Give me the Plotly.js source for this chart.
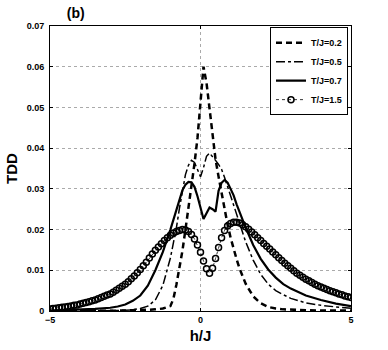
<!DOCTYPE html>
<html>
<head>
<meta charset="utf-8">
<script src="https://cdn.plot.ly/plotly-3.0.1.min.js"></script>
<style>
  html, body { margin: 0; padding: 0; background: #fff; }
  #myPlot { width: 388px; height: 350px; }
</style>
</head>
<body>
<div id="myPlot"></div>
<script>
// h/J grid used by the three line curves
var lineX = [-5, -4.5, -4, -3.5, -3, -2.75, -2.5, -2.25, -2, -1.75, -1.5, -1.25, -1,
  -0.9, -0.8, -0.7, -0.6, -0.5, -0.4, -0.3, -0.2, -0.1, 0, 0.1, 0.2, 0.3, 0.4, 0.5,
  0.6, 0.7, 0.8, 0.9, 1, 1.1, 1.2, 1.3, 1.4, 1.5, 1.75, 2, 2.25, 2.5, 2.75, 3, 3.5, 4, 4.5, 5];

var tdd02 = [0, 0, 0, 0.0001, 0.0001, 0.0001, 0.0001, 0.0002, 0.0002, 0.0003, 0.0004, 0.0006, 0.0012,
  0.0030, 0.0065, 0.0105, 0.0148, 0.0200, 0.0252, 0.0305, 0.0362, 0.0425, 0.0510, 0.0600, 0.0560, 0.0492, 0.0425, 0.0372,
  0.0330, 0.0288, 0.0248, 0.0212, 0.0180, 0.0152, 0.0127, 0.0104, 0.0084, 0.0067, 0.0036, 0.0019, 0.0010, 0.0006, 0.0004, 0.0003, 0.0002, 0.0001, 0.0001, 0.0001];

var tdd05 = [0, 0, 0, 0.0001, 0.0001, 0.0001, 0.0002, 0.0003, 0.0006, 0.0012, 0.0027, 0.0063, 0.0130,
  0.0165, 0.0205, 0.0252, 0.0297, 0.0335, 0.0358, 0.0370, 0.0365, 0.0345, 0.0330, 0.0352, 0.0380, 0.0388, 0.0380, 0.0370,
  0.0360, 0.0348, 0.0328, 0.0305, 0.0283, 0.0260, 0.0235, 0.0210, 0.0190, 0.0170, 0.0125, 0.0090, 0.0066, 0.0050, 0.0040, 0.0031, 0.0020, 0.0014, 0.0010, 0.0007];

var tdd07 = [0.0001, 0.0002, 0.0003, 0.0005, 0.0008, 0.0011, 0.0016, 0.0025, 0.0038, 0.0062, 0.0100, 0.0145, 0.0200,
  0.0225, 0.0252, 0.0277, 0.0297, 0.0310, 0.0317, 0.0316, 0.0305, 0.0282, 0.0250, 0.0226, 0.0240, 0.0254, 0.0250, 0.0244,
  0.0295, 0.0315, 0.0322, 0.0315, 0.0300, 0.0284, 0.0262, 0.0242, 0.0222, 0.0205, 0.0162, 0.0128, 0.0102, 0.0082, 0.0066, 0.0055, 0.0038, 0.0027, 0.0018, 0.0012];

// T/J=1.5 is sampled every 0.1 (one circle per sample)
var circX = [-5, -4.9, -4.8, -4.7, -4.6, -4.5, -4.4, -4.3, -4.2, -4.1,
  -4, -3.9, -3.8, -3.7, -3.6, -3.5, -3.4, -3.3, -3.2, -3.1,
  -3, -2.9, -2.8, -2.7, -2.6, -2.5, -2.4, -2.3, -2.2, -2.1,
  -2, -1.9, -1.8, -1.7, -1.6, -1.5, -1.4, -1.3, -1.2, -1.1,
  -1, -0.9, -0.8, -0.7, -0.6, -0.5, -0.4, -0.3, -0.2, -0.1,
  0, 0.1, 0.2, 0.3, 0.4, 0.5, 0.6, 0.7, 0.8, 0.9,
  1, 1.1, 1.2, 1.3, 1.4, 1.5, 1.6, 1.7, 1.8, 1.9,
  2, 2.1, 2.2, 2.3, 2.4, 2.5, 2.6, 2.7, 2.8, 2.9,
  3, 3.1, 3.2, 3.3, 3.4, 3.5, 3.6, 3.7, 3.8, 3.9,
  4, 4.1, 4.2, 4.3, 4.4, 4.5, 4.6, 4.7, 4.8, 4.9, 5];

var tdd15 = [0.0005, 0.0006, 0.0007, 0.0008, 0.0009, 0.0010, 0.0011, 0.0012, 0.0014, 0.0015,
  0.0017, 0.0019, 0.0021, 0.0023, 0.0025, 0.0027, 0.0030, 0.0033, 0.0036, 0.0039,
  0.0042, 0.0046, 0.0051, 0.0056, 0.0061, 0.0066, 0.0072, 0.0079, 0.0086, 0.0094,
  0.0102, 0.0111, 0.0120, 0.0130, 0.0140, 0.0149, 0.0157, 0.0165, 0.0173, 0.0180,
  0.0186, 0.0191, 0.0195, 0.0198, 0.0200, 0.0199, 0.0195, 0.0188, 0.0177, 0.0162,
  0.0144, 0.0123, 0.0104, 0.0093, 0.0105, 0.0129, 0.0156, 0.0180, 0.0198, 0.0209,
  0.0215, 0.0218, 0.0218, 0.0216, 0.0212, 0.0207, 0.0201, 0.0194, 0.0187, 0.0180,
  0.0173, 0.0166, 0.0159, 0.0152, 0.0145, 0.0138, 0.0131, 0.0124, 0.0117, 0.0111,
  0.0105, 0.0099, 0.0093, 0.0088, 0.0083, 0.0078, 0.0074, 0.0070, 0.0066, 0.0062,
  0.0059, 0.0056, 0.0053, 0.0050, 0.0047, 0.0045, 0.0042, 0.0040, 0.0037, 0.0035, 0.0033];

var seriesNames = ["T/J=0.2", "T/J=0.5", "T/J=0.7", "T/J=1.5"];
var yTicks = [0, 0.01, 0.02, 0.03, 0.04, 0.05, 0.06, 0.07];
var yTickText = ["0", "0.01", "0.02", "0.03", "0.04", "0.05", "0.06", "0.07"];
var xTicks = [-5, 0, 5];
var xTickText = ["\u22125", "0", "5"];

var fam = "Liberation Sans, Arial, Helvetica, sans-serif";

var data = [{
    x: lineX, y: tdd02, name: seriesNames[0],
    mode: "lines", type: "scatter",
    line: { color: "#000", width: 2.5, dash: "6px,4px" }
  }, {
    x: lineX, y: tdd05, name: seriesNames[1],
    mode: "lines", type: "scatter",
    line: { color: "#000", width: 1.5, dash: "dashdot" }
  }, {
    x: lineX, y: tdd07, name: seriesNames[2],
    mode: "lines", type: "scatter",
    line: { color: "#000", width: 2.2 }
  }, {
    x: circX, y: tdd15, name: seriesNames[3],
    mode: "lines+markers", type: "scatter",
    line: { color: "#000", width: 0.8, dash: "dot" },
    marker: { symbol: "circle-open", size: 6, color: "#000", line: { color: "#000", width: 1.5 } }
}];

var layout = {
  width: 388, height: 350,
  margin: { l: 50, r: 37, t: 26, b: 39 },
  paper_bgcolor: "#fff", plot_bgcolor: "#fff",
  font: { family: fam, color: "#000", size: 9, weight: "bold" },
  title: {
    text: "(b)", xref: "container", yref: "container",
    x: 0.172, xanchor: "left", y: 0.962, yanchor: "middle",
    font: { family: fam, size: 14, weight: "bold", color: "#000" }
  },
  showlegend: true,
  legend: {
    x: 0.99, xanchor: "right", y: 0.996, yanchor: "top",
    bgcolor: "#fff", bordercolor: "#000", borderwidth: 1,
    font: { family: fam, size: 9, weight: "bold", color: "#000" },
    itemwidth: 30, tracegroupgap: 0
  },
  xaxis: {
    range: [-5, 5], tickvals: xTicks, ticktext: xTickText,
    ticks: "inside", ticklen: 3, tickcolor: "#000",
    showline: true, linecolor: "#000", linewidth: 1, mirror: "ticks",
    showgrid: true, gridcolor: "#aaa", griddash: "dot", gridwidth: 1,
    zeroline: false,
    tickfont: { family: fam, size: 9, weight: "bold" },
    title: { text: "h/J", font: { family: fam, size: 15, weight: "bold" }, standoff: 6 }
  },
  yaxis: {
    range: [0, 0.07], tickvals: yTicks, ticktext: yTickText,
    ticks: "inside", ticklen: 3, tickcolor: "#000", ticklabelstandoff: 3,
    showline: true, linecolor: "#000", linewidth: 1, mirror: "ticks",
    showgrid: true, gridcolor: "#aaa", griddash: "dot", gridwidth: 1,
    zeroline: false,
    tickfont: { family: fam, size: 9, weight: "bold" },
    title: { text: "TDD", font: { family: fam, size: 15, weight: "bold" }, standoff: 5 }
  }
};

Plotly.newPlot("myPlot", data, layout, { staticPlot: true, displayModeBar: false });
</script>
</body>
</html>
